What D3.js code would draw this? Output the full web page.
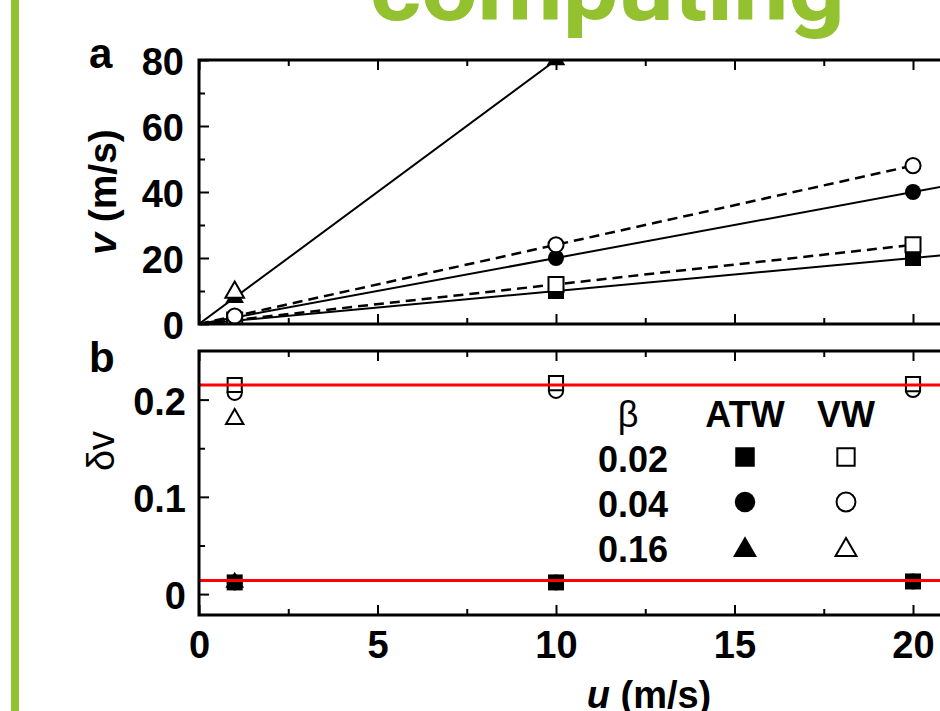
<!DOCTYPE html>
<html><head><meta charset="utf-8">
<script src="https://cdn.jsdelivr.net/npm/d3@7"></script>
<style>html,body{margin:0;padding:0;background:#fff;overflow:hidden}</style>
</head><body>
<svg id="c" width="940" height="711" xmlns="http://www.w3.org/2000/svg"></svg>
<script>
// ---------- data ----------
const uPoints = [1, 10, 20];
const betaLabels = ["0.02", "0.04", "0.16"];
const legendHeaders = ["β", "ATW", "VW"];

// panel a: v (m/s)
const vATW002 = [1, 10, 20];
const vATW004 = [2, 20, 40];
const vATW016 = [8, 80];
const vVW002 = [1.2, 12, 24];
const vVW004 = [2.4, 24, 48];
const vVW016 = [9.6];

// fitted lines (u, v)
const fitATW002 = [[0, 0], [25, 25]];
const fitATW004 = [[0, 0], [25, 50]];
const fitATW016 = [[0, 0], [10, 80]];
const fitVW002 = [[0, 0], [20, 24]];
const fitVW004 = [[0, 0], [20, 48]];

// panel b: delta v
const dvVW002 = [0.215, 0.217, 0.216];
const dvVW004 = [0.207, 0.209, 0.210];
const dvVW016 = [0.180];
const dvATW002 = [0.012, 0.012, 0.013];
const dvATW004 = [0.012, 0.012, 0.013];
const dvATW016 = [0.012];
const redLevels = [0.215, 0.014];

// ticks
const xMajor = [0, 5, 10, 15, 20, 25];
const xMinor = [2.5, 7.5, 12.5, 17.5, 22.5];
const yaMajor = [0, 20, 40, 60, 80];
const yaMinor = [10, 30, 50, 70];
const ybMajor = [0, 0.1, 0.2];
const ybMinor = [0.05, 0.15];

// ---------- drawing ----------
const svg = d3.select("#c");
const FONT = "'Liberation Sans', Arial, Helvetica, sans-serif";
const GREEN = "#94c12f";

svg.append("rect").attr("x", 11).attr("y", 0).attr("width", 8).attr("height", 711).attr("fill", GREEN);
svg.append("text").attr("x", 370).attr("y", 20)
  .attr("font-family", "Roboto, 'Liberation Sans', sans-serif").attr("font-weight", 700)
  .attr("font-size", 90).attr("fill", GREEN)
  .attr("textLength", 475).attr("lengthAdjust", "spacingAndGlyphs")
  .text("computing");

const x = d3.scaleLinear().domain([0, 20]).range([199, 913]);
const ya = d3.scaleLinear().domain([0, 80]).range([324, 60]);
const yb = d3.scaleLinear().domain([-0.0215, 0.25]).range([615, 351]);

const defs = svg.append("defs");
defs.append("clipPath").attr("id", "clipA").append("rect")
  .attr("x", x(0)).attr("y", ya(80)).attr("width", 940).attr("height", ya(0) - ya(80));

const sym = (type, size) => d3.symbol().type(type).size(size)();
const SQ = 256, CI = 200, TR = 150;

// ----- panel a -----
const gA = svg.append("g").attr("clip-path", "url(#clipA)");
const line = d3.line().x(d => x(d[0])).y(d => ya(d[1]));
[fitATW002, fitATW004, fitATW016].forEach(d => {
  gA.append("path").attr("d", line(d)).attr("fill", "none").attr("stroke", "#000").attr("stroke-width", 2);
});
[fitVW002, fitVW004].forEach(d => {
  gA.append("path").attr("d", line(d)).attr("fill", "none").attr("stroke", "#000")
    .attr("stroke-width", 2.5).attr("stroke-dasharray", "10,6");
});

function markers(g, ys, vals, type, size, filled) {
  g.selectAll(null).data(vals).enter().append("path")
    .attr("transform", (d, i) => `translate(${x(uPoints[i])},${ys(d)})`)
    .attr("d", sym(type, size))
    .attr("fill", filled ? "#000" : "#fff")
    .attr("stroke", "#000").attr("stroke-width", filled ? 0 : 2);
}
markers(gA, ya, vATW016, d3.symbolTriangle, TR, true);
markers(gA, ya, vVW016, d3.symbolTriangle, TR, false);
markers(gA, ya, vATW004, d3.symbolCircle, CI, true);
markers(gA, ya, vATW002, d3.symbolSquare, SQ, true);
markers(gA, ya, vVW002, d3.symbolSquare, 225, false);
markers(gA, ya, vVW004, d3.symbolCircle, 180, false);

// ----- panel b -----
const gB = svg.append("g");
markers(gB, yb, dvATW016, d3.symbolTriangle, TR, true);
markers(gB, yb, dvATW004, d3.symbolCircle, CI, true);
markers(gB, yb, dvATW002, d3.symbolSquare, SQ, true);
markers(gB, yb, dvVW016, d3.symbolTriangle, 130, false);
markers(gB, yb, dvVW004, d3.symbolCircle, 160, false);
markers(gB, yb, dvVW002, d3.symbolSquare, 200, false);
gB.selectAll(null).data(redLevels).enter().append("line")
  .attr("x1", x(0)).attr("x2", 940).attr("y1", d => yb(d)).attr("y2", d => yb(d))
  .attr("stroke", "#ff0000").attr("stroke-width", 3);

// legend
const lg = svg.append("g").attr("font-family", FONT);
const colX = [633, 745, 846];
lg.selectAll(null).data(legendHeaders).enter().append("text")
  .attr("x", (d, i) => i === 0 ? 628 : colX[i]).attr("y", 427)
  .attr("text-anchor", "middle").attr("font-size", 36)
  .attr("font-weight", (d, i) => i === 0 ? 400 : 700).text(d => d);
const rowY = [472, 517, 562];
lg.selectAll(null).data(betaLabels).enter().append("text")
  .attr("x", colX[0]).attr("y", (d, i) => rowY[i])
  .attr("text-anchor", "middle").attr("font-size", 36).attr("font-weight", 700).text(d => d);
const legTypes = [d3.symbolSquare, d3.symbolCircle, d3.symbolTriangle];
const legSizesF = [380, 330, 250];
const legSizesO = [300, 280, 190];
const legCy = [457, 502, 550];
legTypes.forEach((t, i) => {
  lg.append("path").attr("transform", `translate(${colX[1]},${legCy[i]})`).attr("d", sym(t, legSizesF[i])).attr("fill", "#000");
  lg.append("path").attr("transform", `translate(${colX[2]},${legCy[i]})`).attr("d", sym(t, legSizesO[i]))
    .attr("fill", "#fff").attr("stroke", "#000").attr("stroke-width", 2);
});

// ----- frames and axes -----
function frame(top, bottom) {
  svg.append("path")
    .attr("d", `M960,${top}H${x(0)}V${bottom}H960`)
    .attr("fill", "none").attr("stroke", "#000").attr("stroke-width", 3);
}
frame(ya(80), ya(0));
frame(yb(0.25), yb(-0.0215));

function ax(gen, tr, values, size, fmt, pad) {
  const g = svg.append("g").attr("transform", tr)
    .call(gen.tickValues(values).tickSize(-size).tickPadding(pad).tickFormat(fmt));
  g.select(".domain").remove();
  g.selectAll(".tick line").attr("stroke", "#000").attr("stroke-width", 2);
  g.selectAll("text").attr("font-family", FONT).attr("font-size", 38).attr("font-weight", 700).attr("fill", "#000");
  return g;
}
const none = () => "";
// panel a
const la = ax(d3.axisLeft(ya), `translate(${x(0)},0)`, yaMajor, 10, d3.format("d"), 15);
la.selectAll("text").attr("dy", "0.38em");
ax(d3.axisLeft(ya), `translate(${x(0)},0)`, yaMinor, 6, none, 15);
ax(d3.axisTop(x), `translate(0,${ya(80)})`, xMajor, 10, none, 10);
ax(d3.axisTop(x), `translate(0,${ya(80)})`, xMinor, 6, none, 10);
ax(d3.axisBottom(x), `translate(0,${ya(0)})`, xMajor, 10, none, 10);
ax(d3.axisBottom(x), `translate(0,${ya(0)})`, xMinor, 6, none, 10);
// panel b
const lb = ax(d3.axisLeft(yb), `translate(${x(0)},0)`, ybMajor, 10, d => d === 0 ? "0" : String(d), 13);
lb.selectAll("text").attr("dy", "0.38em");
ax(d3.axisLeft(yb), `translate(${x(0)},0)`, ybMinor, 6, none, 15);
ax(d3.axisTop(x), `translate(0,${yb(0.25)})`, xMajor, 10, none, 10);
ax(d3.axisTop(x), `translate(0,${yb(0.25)})`, xMinor, 6, none, 10);
const bx = ax(d3.axisBottom(x), `translate(0,${yb(-0.0215)})`, xMajor, 10, d3.format("d"), 16);
ax(d3.axisBottom(x), `translate(0,${yb(-0.0215)})`, xMinor, 6, none, 10);

// ----- titles -----
const t = svg.append("g").attr("font-family", FONT).attr("fill", "#000");
t.append("text").attr("x", 89).attr("y", 68).attr("font-size", 42).attr("font-weight", 700).text("a");
t.append("text").attr("x", 89).attr("y", 372).attr("font-size", 42).attr("font-weight", 700).text("b");
const yt = t.append("text").attr("transform", "translate(116,192) rotate(-90)")
  .attr("text-anchor", "middle").attr("font-size", 39).attr("font-weight", 700);
yt.append("tspan").attr("font-style", "italic").text("v");
yt.append("tspan").text(" (m/s)");
const dt = t.append("text").attr("transform", "translate(114,451) rotate(-90)")
  .attr("text-anchor", "middle").attr("font-size", 38).attr("font-weight", 400);
dt.text("δv");
const xt = t.append("text").attr("x", 649).attr("y", 708)
  .attr("text-anchor", "middle").attr("font-size", 38).attr("font-weight", 700);
xt.append("tspan").attr("font-style", "italic").text("u");
xt.append("tspan").text(" (m/s)");
</script>
</body></html>
